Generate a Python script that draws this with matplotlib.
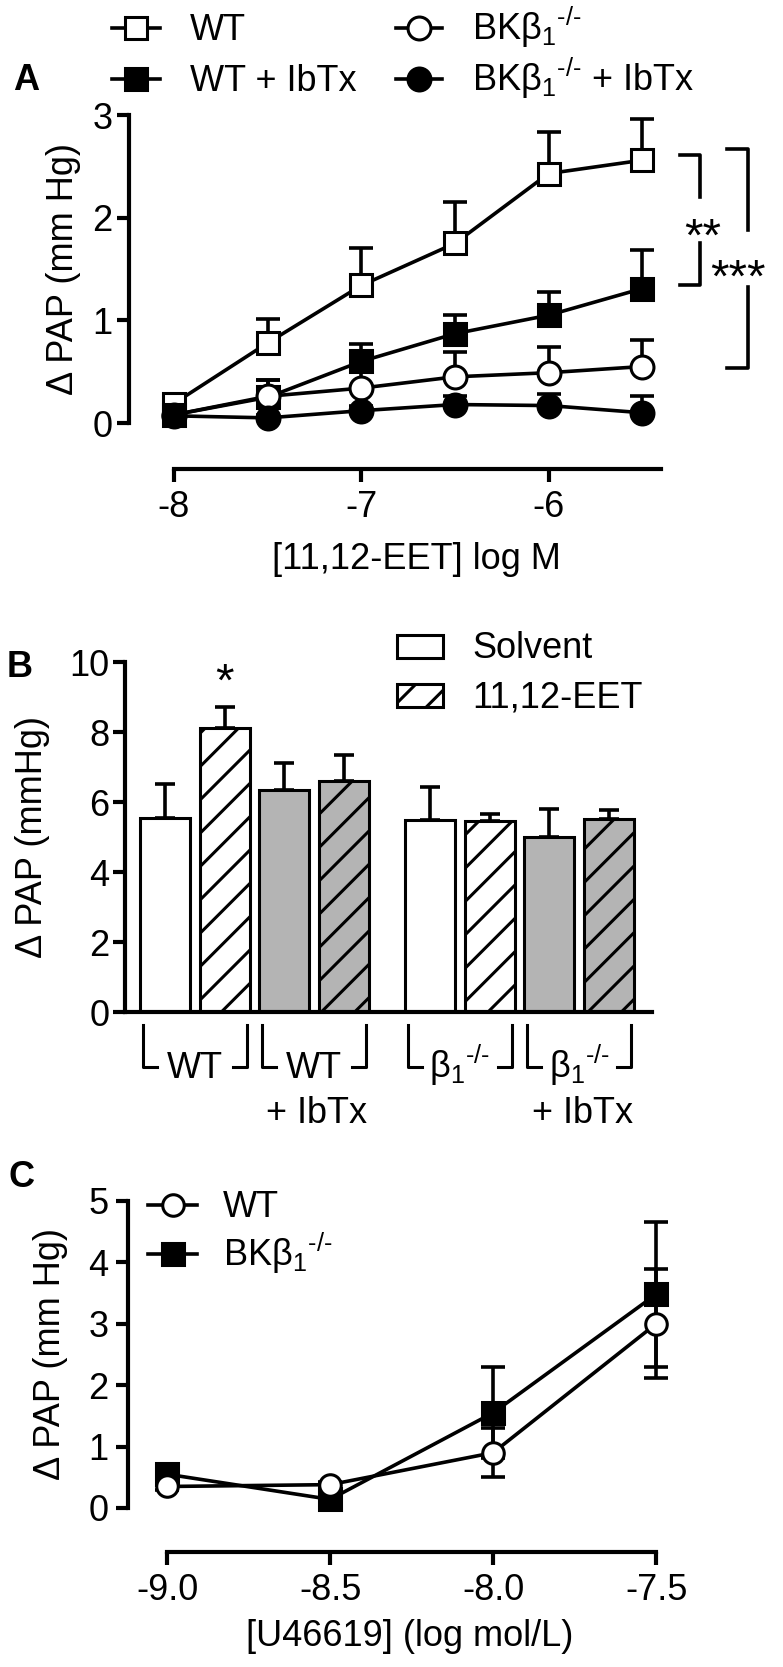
import numpy as np
import matplotlib
matplotlib.use("Agg")
import matplotlib.pyplot as plt
from matplotlib.lines import Line2D
from matplotlib.patches import Rectangle
from matplotlib.ticker import FormatStrFormatter

plt.rcParams['font.family'] = ['Liberation Sans', 'DejaVu Sans']
plt.rcParams['mathtext.default'] = 'regular'
plt.rcParams['font.size'] = 26
plt.rcParams['hatch.linewidth'] = 2.2
plt.rcParams['axes.unicode_minus'] = False

KO = '$_1{}^{\u2010/\u2010}$'  # subscript 1, superscript -/-

# ---- panel A: 11,12-EET concentration response ----
eet_dose = [-8, -7.5, -7, -6.5, -6, -5.5]
wt = [0.19, 0.78, 1.34, 1.75, 2.43, 2.56]
wt_err = [0.05, 0.23, 0.36, 0.40, 0.40, 0.40]
wt_ibtx = [0.08, 0.25, 0.60, 0.87, 1.05, 1.31]
wt_ibtx_err = [0.04, 0.17, 0.17, 0.18, 0.23, 0.38]
bk = [0.08, 0.26, 0.34, 0.45, 0.49, 0.55]
bk_err = [0.03, 0.16, 0.20, 0.24, 0.25, 0.26]
bk_ibtx = [0.07, 0.05, 0.12, 0.18, 0.17, 0.10]
bk_ibtx_err = [0.02, 0.03, 0.05, 0.08, 0.11, 0.16]

# ---- panel B: bars ----
groups = ['WT', 'WT', 'β' + KO, 'β' + KO]
group_sub = ['', '+ IbTx', '', '+ IbTx']
group_fill = ['white', '#b4b4b4', 'white', '#b4b4b4']
solvent = [5.55, 6.34, 5.48, 5.01]
solvent_err = [0.95, 0.77, 0.94, 0.78]
eet = [8.12, 6.59, 5.45, 5.50]
eet_err = [0.60, 0.74, 0.22, 0.27]

# ---- panel C: U46619 ----
u_dose = [-9.0, -8.5, -8.0, -7.5]
c_wt = [0.35, 0.38, 0.90, 3.00]
c_wt_err = [0.05, 0.05, 0.40, 0.89]
c_bk = [0.55, 0.14, 1.55, 3.48]
c_bk_err = [0.05, 0.05, 0.74, 1.18]

W, H = 783, 1667
LW = 2.6
STAR = 34
fig = plt.figure(figsize=(W / 100, H / 100), dpi=100)


def fx(x):
    return x / W


def fy(y):
    return 1 - y / H


def style(ax):
    for s in ['top', 'right']:
        ax.spines[s].set_visible(False)
    for s in ['left', 'bottom']:
        ax.spines[s].set_linewidth(3)
    ax.tick_params(width=3, length=9, labelsize=26, pad=3)


def line_key(x0, x1, y, marker, fc, ms=16.5):
    fig.add_artist(Line2D([fx(x0), fx(x1)], [fy(y), fy(y)], color='black', lw=LW,
                          transform=fig.transFigure))
    fig.add_artist(Line2D([fx((x0 + x1) / 2)], [fy(y)], marker=marker, ms=ms, mfc=fc,
                          mec='black', mew=2.2, transform=fig.transFigure))


# ================= A =================
axA = fig.add_axes([fx(129), fy(469), 532 / W, 359.1 / H])
axA.set_xlim(-8.24, -5.40)
axA.set_ylim(-0.448, 3.05)
seriesA = [(wt, wt_err, 's', 'white'), (wt_ibtx, wt_ibtx_err, 's', 'black'),
           (bk, bk_err, 'o', 'white'), (bk_ibtx, bk_ibtx_err, 'o', 'black')]
for i, (y, e, m, fc) in enumerate(seriesA):
    axA.errorbar(eet_dose, y, yerr=[np.zeros(len(e)), e], fmt='none', ecolor='black',
                 elinewidth=LW, capsize=8.5, capthick=LW, zorder=2 + i, clip_on=False)
    axA.plot(eet_dose, y, color='black', lw=LW, marker=m, ms=16.5, mfc=fc, mec='black',
             mew=2.2, zorder=2.5 + i, clip_on=False)
style(axA)
axA.spines['left'].set_bounds(0, 3)
axA.spines['bottom'].set_bounds(-8, -5.4)
axA.set_yticks([0, 1, 2, 3])
axA.set_xticks([-8, -7, -6])
axA.tick_params(axis='x', pad=6)
axA.set_ylabel('Δ PAP (mm Hg)', fontsize=26, va='center')
axA.yaxis.set_label_coords(-0.124, 0.557)
axA.set_xlabel('[11,12-EET] log M', fontsize=26, va='center')
axA.xaxis.set_label_coords(0.541, -0.253)

# significance brackets
axA.plot([-5.297, -5.19, -5.19], [2.61, 2.61, 2.20], color='black', lw=LW, clip_on=False)
axA.plot([-5.297, -5.19, -5.19], [1.344, 1.344, 1.753], color='black', lw=LW, clip_on=False)
axA.text(-5.18, 1.675, '**', ha='center', va='baseline', fontsize=STAR)
axA.plot([-5.046, -4.934, -4.934], [2.67, 2.67, 1.88], color='black', lw=LW, clip_on=False)
axA.plot([-5.046, -4.934, -4.934], [0.536, 0.536, 1.325], color='black', lw=LW, clip_on=False)
axA.text(-4.987, 1.276, '***', ha='center', va='baseline', fontsize=STAR)

# legend A
legA = [(112, 160, 28, 's', 'white', 'WT'), (112, 160, 79, 's', 'black', 'WT + IbTx'),
        (396, 442, 28, 'o', 'white', 'BKβ' + KO),
        (396, 442, 79, 'o', 'black', 'BKβ' + KO + ' + IbTx')]
for x0, x1, y, m, fc, lab in legA:
    line_key(x0, x1, y, m, fc)
    tx = 190 if x0 < 300 else 472
    fig.text(fx(tx), fy(y + 12), lab, fontsize=26, va='baseline', ha='left')
fig.text(fx(26), fy(80), 'A', fontsize=26, fontweight='bold', ha='center', va='center')

# ================= B =================
axB = fig.add_axes([fx(125), fy(1012), 527 / W, 357 / H])
axB.set_xlim(-0.671, 8.171)
axB.set_ylim(0, 10.2)
base = np.arange(4) * 2 + np.array([0, 0, 0.45, 0.45])
bw = 0.84
axB.errorbar(base, solvent, yerr=[np.zeros(4), solvent_err], fmt='none', ecolor='black',
             elinewidth=LW, capsize=7.2, capthick=LW, zorder=1)
axB.errorbar(base + 1, eet, yerr=[np.zeros(4), eet_err], fmt='none', ecolor='black',
             elinewidth=LW, capsize=7.2, capthick=LW, zorder=1)
axB.bar(base, solvent, bw, color=group_fill, edgecolor='black', lw=2.2, zorder=2)
axB.bar(base + 1, eet, bw, color=group_fill, edgecolor='black', lw=2.2, hatch='/', zorder=2)
style(axB)
axB.spines['left'].set_bounds(0, 10)
axB.set_yticks([0, 2, 4, 6, 8, 10])
axB.set_xticks([])
axB.tick_params(axis='y', pad=2)
axB.set_ylabel('Δ PAP (mmHg)', fontsize=26, va='center')
axB.yaxis.set_label_coords(-0.175, 0.49)
axB.text(1, 9.03, '*', ha='center', va='baseline', fontsize=STAR)

for g in range(4):
    l = base[g] - bw / 2 + 0.05
    r = base[g] + 1 + bw / 2 - 0.05
    axB.plot([l, l, l + 0.23], [-0.371, -1.571, -1.571], color='black', lw=2.2, clip_on=False)
    axB.plot([r - 0.23, r, r], [-1.571, -1.571, -0.371], color='black', lw=2.2, clip_on=False)
    axB.text(base[g] + 0.5, -1.886, groups[g], ha='center', va='baseline', fontsize=26)
    if group_sub[g]:
        axB.text(base[g] + 0.55, -3.17, group_sub[g], ha='center', va='baseline', fontsize=26)

# legend B
for y, hatch, lab in [(646, None, 'Solvent'), (696, '/', '11,12-EET')]:
    fig.add_artist(Rectangle((fx(397), fy(y + 11.5)), 46 / W, 23 / H, facecolor='white',
                             edgecolor='black', lw=2.2, hatch=hatch, transform=fig.transFigure))
    fig.text(fx(472), fy(y + 12), lab, fontsize=26, va='baseline', ha='left')
fig.text(fx(20), fy(667), 'B', fontsize=26, fontweight='bold', ha='center', va='center')

# ================= C =================
axC = fig.add_axes([fx(128), fy(1552), 547.7 / W, 354.1 / H])
axC.set_xlim(-9.12, -7.44)
axC.set_ylim(-0.717, 5.05)
for y, e, m, fc, z in [(c_bk, c_bk_err, 's', 'black', 2), (c_wt, c_wt_err, 'o', 'white', 4)]:
    axC.errorbar(u_dose, y, yerr=e, fmt='none', ecolor='black', elinewidth=LW,
                 capsize=8.5, capthick=LW, zorder=z, clip_on=False)
    axC.plot(u_dose, y, color='black', lw=LW, marker=m, ms=15.5, mfc=fc, mec='black',
             mew=2.2, zorder=z + 0.5, clip_on=False)
style(axC)
axC.spines['left'].set_bounds(0, 5)
axC.spines['bottom'].set_bounds(-9, -7.5)
axC.set_yticks([0, 1, 2, 3, 4, 5])
axC.set_xticks(u_dose)
axC.xaxis.set_major_formatter(FormatStrFormatter('%.1f'))
axC.tick_params(axis='x', pad=6)
axC.tick_params(axis='y', pad=5)
axC.set_ylabel('Δ PAP (mm Hg)', fontsize=26, va='center')
axC.yaxis.set_label_coords(-0.142, 0.559)
axC.set_xlabel('[U46619] (log mol/L)', fontsize=26, va='center')
axC.xaxis.set_label_coords(0.515, -0.240)

line_key(148, 197, 1205, 'o', 'white', ms=15.5)
line_key(148, 197, 1254, 's', 'black', ms=15.5)
fig.text(fx(223), fy(1205 + 12), 'WT', fontsize=26, va='baseline', ha='left')
fig.text(fx(223), fy(1254 + 12), 'BKβ' + KO, fontsize=26, va='baseline', ha='left')
fig.text(fx(21), fy(1177), 'C', fontsize=26, fontweight='bold', ha='center', va='center')

fig.savefig('out.png', dpi=100)
